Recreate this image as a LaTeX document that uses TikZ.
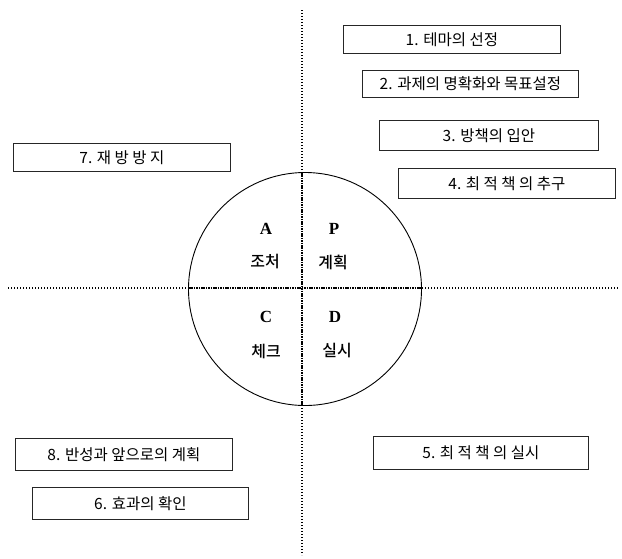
\documentclass[tikz,border=0pt]{standalone}
\usepackage{fontspec}
\setmainfont{Liberation Serif}
\newfontfamily\kr{Noto Sans CJK KR}
\newfontfamily\krb{Noto Sans CJK KR Medium}
\begin{document}
\begin{tikzpicture}[x=1pt,y=-1pt,
  stepbox/.style={draw=black!85, line width=0.8pt, minimum height=29pt, inner sep=0pt, font=\kr\fontsize{15.5}{17}\selectfont, anchor=north west},
  axisline/.style={line width=2pt, dash pattern=on 1.4pt off 1.6pt},
  axisin/.style={line width=2.2pt, dash pattern=on 1.6pt off 0.8pt},
  letter/.style={font=\bfseries\fontsize{17}{19}\selectfont},
  word/.style={font=\krb\fontsize{16}{18}\selectfont}]
\useasboundingbox (0,0) rectangle (622,558);
% axes
\coordinate (vt) at (302,10);
\coordinate (vb) at (302,555);
\coordinate (hl) at (8,288);
\coordinate (hr) at (618,288);
\node[draw, line width=0.9pt, circle, minimum size=233pt, inner sep=0pt] (circ) at (305,289) {};
\coordinate (ci-t) at (302,173);
\coordinate (ci-b) at (302,405);
\coordinate (ci-l) at (189,288);
\coordinate (ci-r) at (422,288);
\draw[axisline] (vt) -- (ci-t);
\draw[axisline] (ci-b) -- (vb);
\draw[axisline] (hl) -- (ci-l);
\draw[axisline] (ci-r) -- (hr);
\draw[axisin] (ci-t) -- (ci-b);
\draw[axisin] (ci-l) -- (ci-r);
% quadrant labels
\node[letter] (la) at (266,229) {A};
\node[word] (wa) at (265,262) {조처};
\node[letter] (lp) at (334,229) {P};
\node[word] (wp) at (333,262) {계획};
\node[letter] (lc) at (266,317) {C};
\node[word] (wc) at (266,351) {체크};
\node[letter] (ld) at (335,317) {D};
\node[word] (wd) at (337,351) {실시};
% boxes
\node[stepbox, minimum width=217pt, minimum height=28pt] (b1) at (343,25) {1. 테마의 선정};
\node[stepbox, minimum width=216pt, minimum height=27pt] (b2) at (362,70) {2. 과제의 명확화와 목표설정};
\node[stepbox, minimum width=219pt, minimum height=30pt] (b3) at (379,120) {3. 방책의 입안};
\node[stepbox, minimum width=217pt, minimum height=30pt] (b4) at (398,168) {4. 최 적 책 의 추구};
\node[stepbox, minimum width=217pt, minimum height=28pt] (b7) at (13,143) {7. 재 방 방 지};
\node[stepbox, minimum width=215pt, minimum height=33pt] (b5) at (373,436) {5. 최 적 책 의 실시};
\node[stepbox, minimum width=217pt, minimum height=32pt] (b8) at (15,438) {8. 반성과 앞으로의 계획};
\node[stepbox, minimum width=216pt, minimum height=32pt] (b6) at (32,487) {6. 효과의 확인};
\end{tikzpicture}
\end{document}
